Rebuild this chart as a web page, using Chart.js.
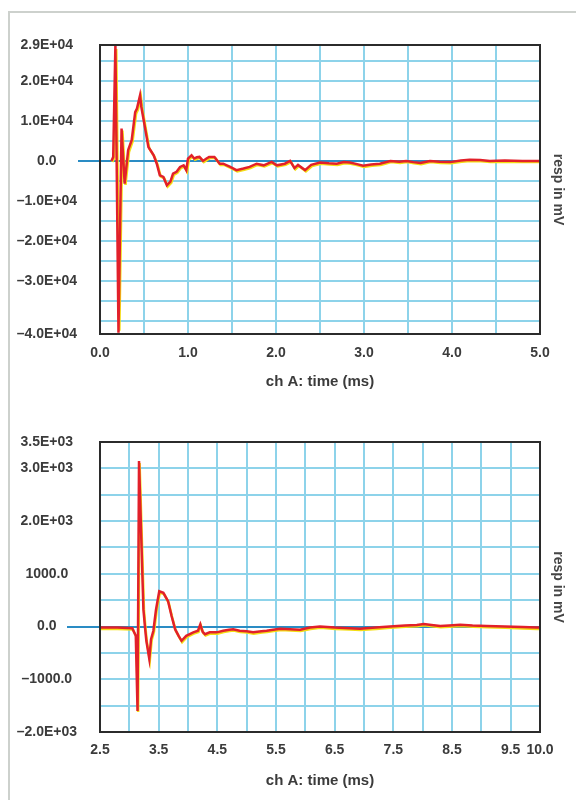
<!DOCTYPE html>
<html>
<head>
<meta charset="utf-8">
<script src="https://cdn.jsdelivr.net/npm/chart.js@4.4.0/dist/chart.umd.min.js"></script>
<style>
  body { margin: 0; background: #fff; overflow: hidden; }
  #frame { position: absolute; left: 8px; top: 11px; width: 570px; height: 790px;
           border-top: 2px solid #cdd1cd; border-left: 2px solid #cdd1cd; }
  canvas { position: absolute; left: 0; }
</style>
</head>
<body>
<div id="frame"></div>
<canvas id="chartA" width="576" height="400" style="top:0"></canvas>
<canvas id="chartB" width="576" height="400" style="top:400px"></canvas>
<script>
// top panel, 0 - 5 ms
const timeA = [0.13, 0.15, 0.175, 0.21, 0.245, 0.28, 0.32, 0.36, 0.40, 0.42, 0.455, 0.47, 0.51, 0.55, 0.61, 0.645, 0.68, 0.72, 0.76, 0.80,
  0.83, 0.87, 0.91, 0.95, 0.98, 1.00, 1.04, 1.07, 1.10, 1.13, 1.17, 1.21, 1.24, 1.30, 1.36, 1.40, 1.48, 1.55, 1.63, 1.70,
  1.78, 1.86, 1.95, 2.01, 2.10, 2.16, 2.21, 2.25, 2.33, 2.40, 2.50, 2.60, 2.69, 2.77, 2.84, 2.92, 2.99, 3.08, 3.18, 3.30,
  3.40, 3.48, 3.56, 3.64, 3.75, 3.86, 3.98, 4.10, 4.20, 4.32, 4.43, 4.60, 4.80, 5.00];
const respRedA = [0, 1000, 29000, -43000, 8100, -5700, 2700, 5200, 12200, 13100, 16400, 13500, 8500, 3500, 1400, -700, -3600, -4000, -6100, -5200,
  -3200, -2700, -1500, -1100, -2300, 600, 1400, 600, 900, 1000, 0, 600, 1000, 1000, -700, -700, -1500, -2300, -1900, -1500,
  -700, -1100, -250, -1100, -700, 0, -1800, -1000, -2300, -1000, -400, -600, -700, -300, -400, -800, -1200, -900, -700, 0,
  -200, 0, -300, -500, 0, -200, -300, 100, 300, 200, 0, 100, 0, 0];
const timeYelA = [0.14, 0.16, 0.185, 0.22, 0.255, 0.29, 0.33, 0.37, 0.41, 0.43, 0.465, 0.48, 0.52, 0.56, 0.62, 0.655, 0.69, 0.73, 0.77, 0.81,
  0.84, 0.88, 0.92, 0.96, 0.99, 1.01, 1.05, 1.08, 1.11, 1.14, 1.18, 1.22, 1.25, 1.31, 1.37, 1.41, 1.49, 1.56, 1.64, 1.71,
  1.79, 1.87, 1.96, 2.02, 2.11, 2.17, 2.22, 2.26, 2.34, 2.41, 2.51, 2.61, 2.70, 2.78, 2.85, 2.93, 3.00, 3.09, 3.19, 3.31,
  3.41, 3.49, 3.57, 3.65, 3.76, 3.87, 3.99, 4.11, 4.21, 4.33, 4.44, 4.61, 4.81, 5.00];
const respYelA = [-300, 700, 28000, -42500, 7600, -6000, 2300, 4800, 11800, 12700, 15900, 13100, 8100, 3100, 1000, -1000, -3900, -4300, -6400, -5500,
  -3500, -3000, -1800, -1400, -2600, 300, 1100, 300, 600, 700, -300, 300, 700, 700, -1000, -1000, -1800, -2600, -2200, -1800,
  -1000, -1400, -550, -1400, -1000, -300, -2100, -1300, -2600, -1300, -700, -900, -1000, -600, -700, -1100, -1500, -1200, -1000, -300,
  -500, -300, -600, -800, -300, -500, -600, -200, 0, -100, -300, -200, -300, -300];
const xLabelsA = [0, 1, 2, 3, 4, 5];
const yTicksA = [29000, 20000, 10000, 0, -10000, -20000, -30000, -43300];
const yTickLabelsA = ['2.9E+04', '2.0E+04', '1.0E+04', '0.0', '–1.0E+04', '–2.0E+04', '–3.0E+04', '–4.0E+04'];

// bottom panel, 2.5 - 10 ms
const timeB = [2.50, 2.80, 3.05, 3.11, 3.14, 3.165, 3.24, 3.27, 3.29, 3.34, 3.37, 3.41, 3.455, 3.51, 3.58, 3.66, 3.72, 3.78, 3.84, 3.89,
  3.97, 4.09, 4.17, 4.21, 4.25, 4.29, 4.37, 4.49, 4.60, 4.70, 4.77, 4.88, 5.00, 5.11, 5.25, 5.34, 5.45, 5.57, 5.74, 5.91,
  6.08, 6.25, 6.50, 6.75, 6.93, 7.20, 7.44, 7.70, 7.90, 8.02, 8.15, 8.30, 8.45, 8.64, 8.85, 9.09, 9.40, 9.70, 9.94, 10.0];
const respRedB = [-20, -20, -30, -175, -1600, 3140, 325, -50, -270, -610, -240, -80, 325, 670, 640, 480, 200, -50, -175, -270,
  -175, -110, -80, 40, -100, -145, -110, -110, -80, -60, -50, -80, -90, -110, -90, -80, -60, -40, -50, -60,
  -20, 0, -20, -30, -40, -20, 0, 20, 30, 50, 30, 10, 20, 35, 20, 10, 0, -10, -20, -20];
const timeYelB = [2.50, 2.80, 3.06, 3.12, 3.15, 3.175, 3.25, 3.28, 3.30, 3.35, 3.38, 3.42, 3.465, 3.52, 3.59, 3.67, 3.73, 3.79, 3.85, 3.90,
  3.98, 4.10, 4.18, 4.22, 4.26, 4.30, 4.38, 4.50, 4.61, 4.71, 4.78, 4.89, 5.01, 5.12, 5.26, 5.35, 5.46, 5.58, 5.75, 5.92,
  6.09, 6.26, 6.51, 6.76, 6.94, 7.21, 7.45, 7.71, 7.91, 8.03, 8.16, 8.31, 8.46, 8.65, 8.86, 9.10, 9.41, 9.71, 9.95, 10.0];
const respYelB = [-45, -45, -55, -200, -1620, 3100, 300, -75, -295, -635, -265, -105, 300, 645, 615, 455, 175, -75, -200, -295,
  -200, -135, -105, 15, -125, -170, -135, -135, -105, -85, -75, -105, -115, -135, -115, -105, -85, -65, -75, -85,
  -45, -25, -45, -55, -65, -45, -25, -5, 5, 25, 5, -15, -5, 10, -5, -15, -25, -35, -45, -45];
const xLabelsB = [2.5, 3.5, 4.5, 5.5, 6.5, 7.5, 8.5, 9.5, 10];
const yTicksB = [3500, 3000, 2000, 1000, 0, -1000, -2000];
const yTickLabelsB = ['3.5E+03', '3.0E+03', '2.0E+03', '1000.0', '0.0', '–1000.0', '–2.0E+03'];

const gridCyan = '#8dd3ea';
const zeroBlue = '#2a8cc4';
const textGrey = '#3b3b3b';

Chart.defaults.font.family = "'Liberation Sans', Arial, sans-serif";
Chart.defaults.font.weight = 'bold';

function gridTicks(min, max, step, extra) {
  const vals = new Set(extra);
  for (let v = Math.ceil(min / step) * step; v <= max + 1e-9; v += step) vals.add(Math.round(v * 1000) / 1000);
  return [...vals].sort((a, b) => a - b).map(v => ({ value: v }));
}

const boxFrame = {
  id: 'boxFrame',
  afterDatasetsDraw(chart) {
    const a = chart.chartArea, ctx = chart.ctx;
    ctx.save();
    ctx.strokeStyle = '#2b2b2b';
    ctx.lineWidth = 2;
    ctx.strokeRect(a.left, a.top, a.right - a.left, a.bottom - a.top);
    ctx.restore();
  }
};

function makeChart(id, o) {
  const pts = (xs, ys) => xs.map((t, i) => ({ x: t, y: ys[i] }));
  return new Chart(document.getElementById(id), {
    type: 'line',
    data: {
      datasets: [
        // red trace sits on top of the yellow one
        { data: pts(o.tRed, o.vRed), borderColor: '#e2202a', borderWidth: 2.5, pointRadius: 0, tension: 0, order: 0 },
        { data: pts(o.tYel, o.vYel), borderColor: '#f4de14', borderWidth: 2.5, pointRadius: 0, tension: 0, order: 1 }
      ]
    },
    options: {
      responsive: false,
      animation: false,
      layout: { padding: { top: o.top, left: 0, right: 0, bottom: 0 } },
      plugins: { legend: { display: false }, tooltip: { enabled: false } },
      scales: {
        x: {
          type: 'linear', min: o.xMin, max: o.xMax,
          afterBuildTicks: s => { s.ticks = gridTicks(o.xMin, o.xMax, 0.5, o.xLabels); },
          afterFit: s => { s.height = o.xHeight; },
          grid: { color: gridCyan, lineWidth: 2, drawTicks: false },
          border: { display: false },
          ticks: {
            autoSkip: false, maxRotation: 0, padding: o.xPad, color: textGrey,
            font: { size: 14, weight: 'bold' },
            callback: v => o.xLabels.some(l => Math.abs(l - v) < 1e-6) ? v.toFixed(1) : ''
          },
          title: { display: true, text: 'ch A: time (ms)', color: textGrey,
                   font: { size: 15, weight: 'bold' }, padding: { top: 0, bottom: o.titlePad } }
        },
        y: {
          type: 'linear', position: 'left', min: o.yMin, max: o.yMax,
          afterBuildTicks: s => { s.ticks = gridTicks(o.yMin, o.yMax, o.yStep, o.yTicks); },
          afterFit: s => { s.width = 100; },
          grid: {
            color: c => c.tick && c.tick.value === 0 ? zeroBlue : gridCyan,
            lineWidth: 2,
            drawTicks: true,
            tickLength: o.zeroStub,
            tickWidth: 2,
            tickColor: c => c.tick && c.tick.value === 0 ? zeroBlue : 'rgba(0,0,0,0)'
          },
          border: { display: false },
          ticks: {
            autoSkip: false, crossAlign: 'center', padding: o.yPad, color: textGrey,
            font: { size: 14, weight: 'bold' },
            callback: v => {
              const i = o.yTicks.indexOf(v);
              return i >= 0 ? o.yLabels[i] : '';
            }
          }
        },
        y2: {
          type: 'linear', position: 'right', min: 0, max: 1, display: true,
          afterFit: s => { s.width = 36; },
          grid: { display: false },
          border: { display: false },
          ticks: { display: false },
          title: { display: true, text: 'resp in mV', color: '#454545',
                   font: { size: 14, weight: 'bold' }, padding: { top: 10, bottom: 0 } }
        }
      }
    },
    plugins: [boxFrame]
  });
}

makeChart('chartA', {
  tRed: timeA, vRed: respRedA, tYel: timeYelA, vYel: respYelA,
  xMin: 0, xMax: 5, xLabels: xLabelsA,
  yMin: -43300, yMax: 29000, yStep: 5000, yTicks: yTicksA, yLabels: yTickLabelsA,
  top: 45, xHeight: 66, xPad: 11, titlePad: 9, zeroStub: 22, yPad: 1
});

makeChart('chartB', {
  tRed: timeB, vRed: respRedB, tYel: timeYelB, vYel: respYelB,
  xMin: 2.5, xMax: 10, xLabels: xLabelsB,
  yMin: -2000, yMax: 3500, yStep: 500, yTicks: yTicksB, yLabels: yTickLabelsB,
  top: 42, xHeight: 68, xPad: 10, titlePad: 10, zeroStub: 33, yPad: -10
});
</script>
</body>
</html>
